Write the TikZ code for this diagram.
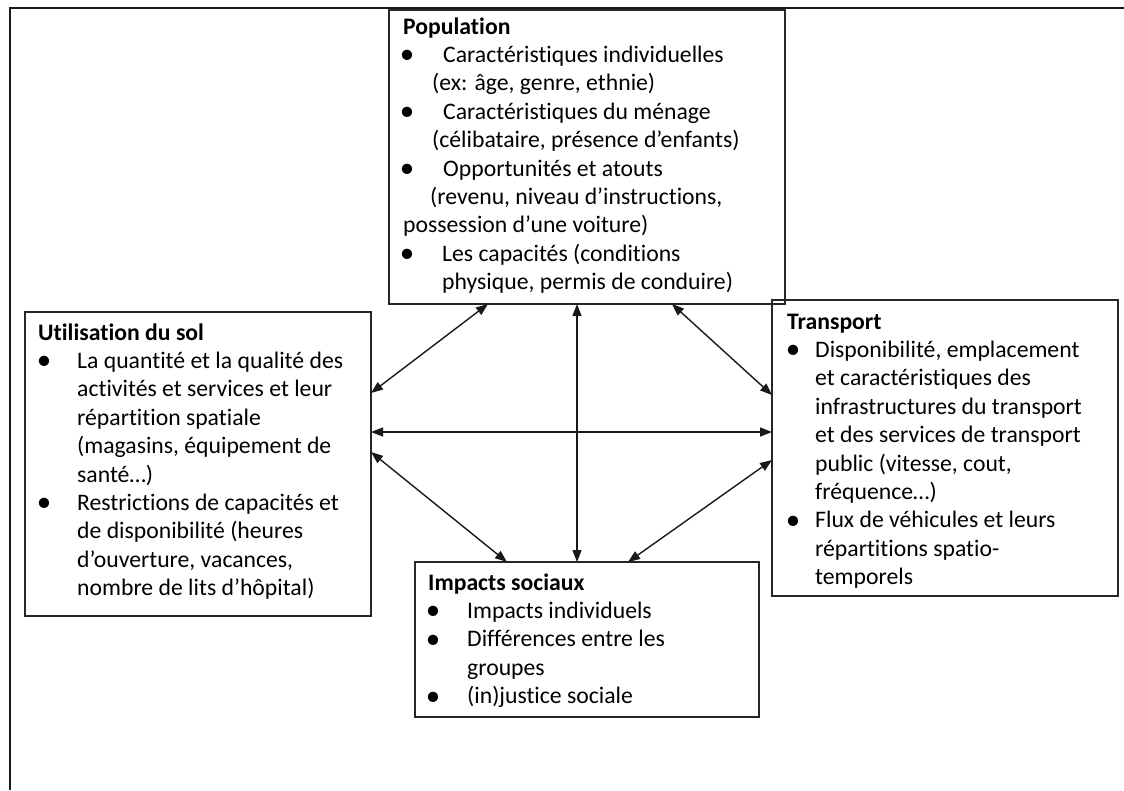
\documentclass[tikz,border=0pt]{standalone}
\usepackage{fontspec}
\setmainfont{Carlito}[Ligatures=NoCommon]
\usetikzlibrary{arrows.meta}
\begin{document}
\begin{tikzpicture}[x=1pt,y=-1pt,
  box/.style={draw=black!85, line width=1.3pt, anchor=north west, inner sep=0pt, outer sep=0pt},
  txt/.style={anchor=base west, inner sep=0pt, font=\fontsize{23.7}{28.4}\selectfont},
  head/.style={txt, font=\fontsize{23.7}{28.4}\selectfont\bfseries},
  bul/.style={anchor=base, inner sep=0pt, yshift=-1.5pt, font=\fontsize{29}{30}\selectfont},
  frame/.style={draw=black!90, line width=1.6pt},
  link/.style={line width=1.4pt, draw=black!90, {Triangle[length=12pt,width=9pt]}-{Triangle[length=12pt,width=9pt]}}]
\useasboundingbox (0,0) rectangle (1124,790);
\fill[white] (0,0) rectangle (1124,790);
% outer frame
\draw[frame] (10,790) -- (10,8) -- (1124,8);
% boxes
\node[box, minimum width=396pt, minimum height=294pt] (pop) at (389,10) {};
\node[box, minimum width=346pt, minimum height=304pt] (use) at (25,312) {};
\node[box, minimum width=346pt, minimum height=296pt] (tra) at (772,300) {};
\node[box, minimum width=344pt, minimum height=155pt] (imp) at (415,562) {};
% Population text
\node[head] (popH) at (403,34) {Population};
\foreach \x/\t [count=\i] in {
  443/{Caractéristiques individuelles},
  432/{(ex: âge, genre, ethnie)},
  443/{Caractéristiques du ménage},
  432/{(célibataire, présence d’enfants)},
  443/{Opportunités et atouts},
  430/{(revenu, niveau d’instructions,},
  403/{possession d’une voiture)},
  442/{Les capacités (conditions},
  442/{physique, permis de conduire)}}
  \node[txt] (pop\i) at (\x,{34+28.4*\i}) {\t};
\foreach \k [count=\i] in {1,3,5,8}
  \node[bul] (popb\i) at (407,{34+28.4*\k}) {•};
% Utilisation du sol text
\node[head] (useH) at (38,340) {Utilisation du sol};
\foreach \t [count=\i] in {
  {La quantité et la qualité des},
  {activités et services et leur},
  {répartition spatiale},
  {(magasins, équipement de},
  {santé…)},
  {Restrictions de capacités et},
  {de disponibilité (heures},
  {d’ouverture, vacances,},
  {nombre de lits d’hôpital)}}
  \node[txt] (use\i) at (77,{340+28.4*\i}) {\t};
\foreach \k [count=\i] in {1,6}
  \node[bul] (useb\i) at (44,{340+28.4*\k}) {•};
% Transport text
\node[head] (traH) at (787,329) {Transport};
\foreach \t [count=\i] in {
  {Disponibilité, emplacement},
  {et caractéristiques des},
  {infrastructures du transport},
  {et des services de transport},
  {public (vitesse, cout,},
  {fréquence…)},
  {Flux de véhicules et leurs},
  {répartitions spatio-},
  {temporels}}
  \node[txt] (tra\i) at (815,{329+28.4*\i}) {\t};
\foreach \k [count=\i] in {1,7}
  \node[bul] (trab\i) at (793,{329+28.4*\k}) {•};
% Impacts sociaux text
\node[head] (impH) at (428,590) {Impacts sociaux};
\foreach \t [count=\i] in {
  {Impacts individuels},
  {Différences entre les},
  {groupes},
  {(in)justice sociale}}
  \node[txt] (imp\i) at (467,{590+28.4*\i}) {\t};
\foreach \k [count=\i] in {1,2,4}
  \node[bul] (impb\i) at (433,{590+28.4*\k}) {•};
% connectors
\draw[link] ([xshift=99pt]pop.south west) -- ([yshift=-81pt]use.north east);
\draw[link] ([xshift=188pt]pop.south west) -- ([xshift=162pt]imp.north west);
\draw[link] ([xshift=283pt]pop.south west) -- ([yshift=-95pt]tra.north west);
\draw[link] ([yshift=-120pt]use.north east) -- ([yshift=-132pt]tra.north west);
\draw[link] ([yshift=-140pt]use.north east) -- ([xshift=92pt]imp.north west);
\draw[link] ([yshift=-160pt]tra.north west) -- ([xshift=213pt]imp.north west);
\end{tikzpicture}
\end{document}
